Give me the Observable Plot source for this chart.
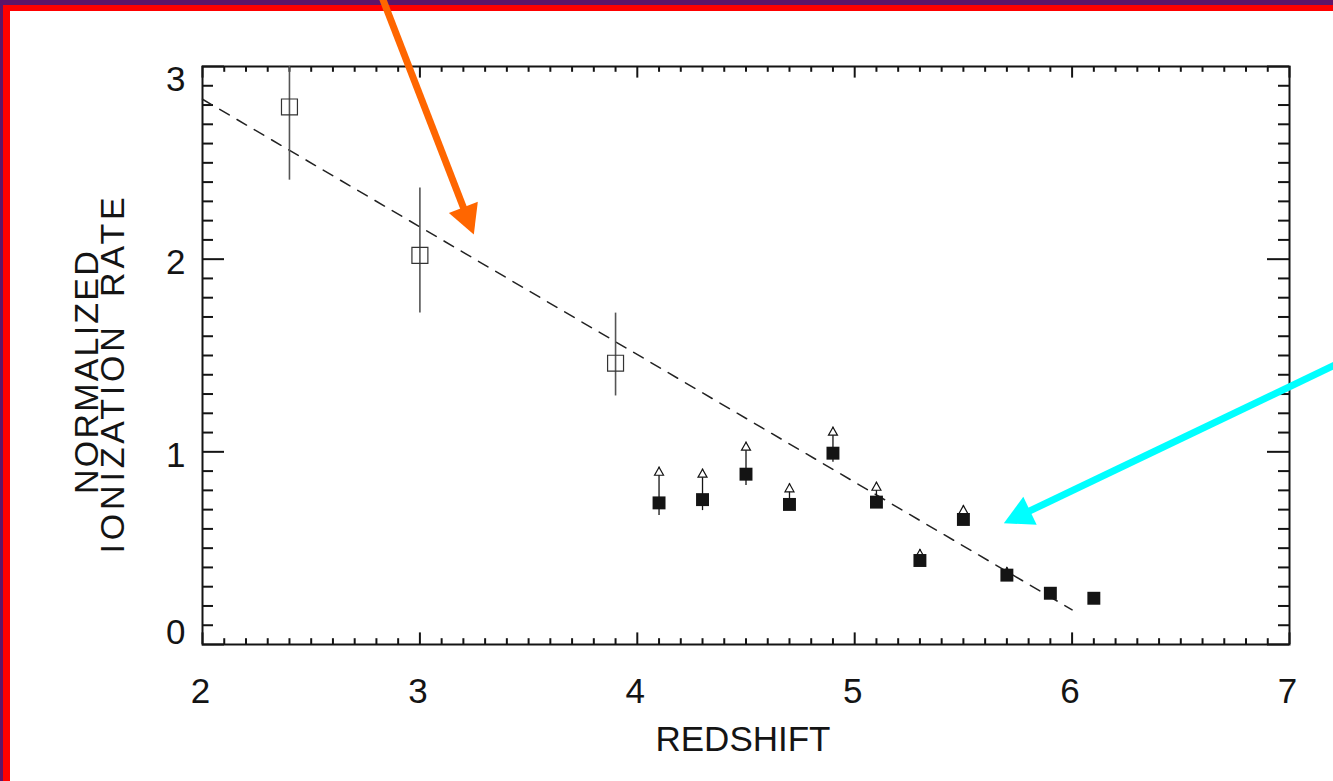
<!DOCTYPE html>
<html>
<head>
<meta charset="utf-8">
<script src="https://cdn.jsdelivr.net/npm/d3@7"></script>
<script src="https://cdn.jsdelivr.net/npm/@observablehq/plot@0.6"></script>
<style>
  html, body { margin: 0; padding: 0; background: #fff; overflow: hidden; }
  #page { position: relative; width: 1333px; height: 781px; }
  #edge { position: absolute; left: 0; top: 0; width: 1333px; height: 781px;
          box-shadow: inset 3px 5px 0 0 #5e1568, inset 10px 11px 0 0 #ff0000; }
  #chart { position: absolute; left: 0; top: 0; }
  #chart text { white-space: pre; }
</style>
</head>
<body>
<div id="page"><div id="edge"></div><div id="chart"></div></div>
<script>
// Normalized ionization rate versus redshift

const xTicks = [2, 3, 4, 5, 6, 7];
const yTicks = [0, 1, 2, 3];

// lower-redshift measurements (open squares with 1-sigma bars)
const openZ    = [2.4, 3.0, 3.9];
const openRate = [2.79, 2.02, 1.46];
const openLo   = [2.41, 1.72, 1.29];
const openHi   = [3.17, 2.37, 1.72];

// high-redshift measurements (filled squares) and their lower-limit arrows
const limZ     = [4.1, 4.3, 4.5, 4.7, 4.9, 5.1, 5.3, 5.5, 5.7, 5.9, 6.1];
const limRate  = [0.735, 0.752, 0.884, 0.727, 0.993, 0.739, 0.436, 0.649, 0.36, 0.266, 0.24];
const limLo    = [0.67, 0.695, 0.825, 0.727, 0.946, 0.739, 0.436, 0.649, 0.36, 0.266, 0.24];
const limArrow = [0.92, 0.91, 1.05, 0.834, 1.128, 0.842, 0.493, 0.721, 0.40, null, null];

// dashed trend line
const fitZ    = [2, 6];
const fitRate = [2.83, 0.18];

// callout arrows (tail -> head, in data units)
const calloutColor = ["#ff6600", "#00ffff"];
const calloutZ1    = [2.814, 7.258];
const calloutR1    = [3.394, 1.477];
const calloutZ2    = [3.248, 5.686];
const calloutR2    = [2.128, 0.629];

const xLabel = "REDSHIFT";
const yLabel1 = "NORMALIZED";
const yLabel2 = "IONIZATION\u00a0 RATE";

// ---- tables built from the arrays above ----
const openData = openZ.map((z, i) => ({z, rate: openRate[i], lo: openLo[i], hi: openHi[i]}));
const limData = limZ.map((z, i) => ({z, rate: limRate[i], lo: limLo[i], arrow: limArrow[i]}));
const limArrows = limData.filter(d => d.arrow != null);
const fitData = fitZ.map((z, i) => ({z, rate: fitRate[i]}));
const callouts = calloutColor.map((color, i) => ({
  color, z1: calloutZ1[i], r1: calloutR1[i], z2: calloutZ2[i], r2: calloutR2[i]
}));

const xMinor = d3.range(20, 71).filter(v => v % 10).map(v => v / 10);
const yMinor = d3.range(0, 31).filter(v => v % 10).map(v => v / 10);

const dims = {width: 1333, height: 781, marginLeft: 202, marginRight: 44, marginTop: 66, marginBottom: 137};
const plotW = dims.width - dims.marginLeft - dims.marginRight;
const plotH = dims.height - dims.marginTop - dims.marginBottom;
const xScale = {domain: [2, 7], label: null};
const yScale = {domain: [0, 3], label: null};
const ink = "#141414";
const fmt = d => String(d);

// triangle head with its tip at the origin, pointing up
const head = (len, half) => ({
  draw(ctx) { ctx.moveTo(0, 0); ctx.lineTo(-half, len); ctx.lineTo(half, len); ctx.closePath(); }
});

// screen-space direction of each callout, from the plot's own scales
const probe = Plot.plot({...dims, x: xScale, y: yScale, marks: [Plot.line(fitData, {x: "z", y: "rate"})]});
const sx = probe.scale("x"), sy = probe.scale("y");
callouts.forEach(d => {
  const dx = sx.apply(d.z2) - sx.apply(d.z1);
  const dy = sy.apply(d.r2) - sy.apply(d.r1);
  d.angle = Math.atan2(dx, -dy) * 180 / Math.PI;
});

const font = "'Liberation Sans', Arial, Helvetica, sans-serif";

const chart = Plot.plot({
  ...dims,
  style: {background: "transparent", overflow: "visible", fontFamily: font, color: ink},
  x: xScale,
  y: yScale,
  color: {type: "identity"},
  marks: [
    // inward ticks on all four sides
    Plot.tickX(xTicks, {insetTop: plotH - 11.6, stroke: ink, strokeWidth: 2}),
    Plot.tickX(xMinor, {insetTop: plotH - 5.8, stroke: ink, strokeWidth: 2}),
    Plot.tickX(xTicks, {insetBottom: plotH - 11.6, stroke: ink, strokeWidth: 2}),
    Plot.tickX(xMinor, {insetBottom: plotH - 5.8, stroke: ink, strokeWidth: 2}),
    Plot.tickY(yTicks, {insetRight: plotW - 22, stroke: ink, strokeWidth: 2}),
    Plot.tickY(yMinor, {insetRight: plotW - 11, stroke: ink, strokeWidth: 2}),
    Plot.tickY(yTicks, {insetLeft: plotW - 22, stroke: ink, strokeWidth: 2}),
    Plot.tickY(yMinor, {insetLeft: plotW - 11, stroke: ink, strokeWidth: 2}),
    Plot.frame({stroke: ink, strokeWidth: 2}),

    // tick labels
    Plot.axisX(xTicks, {tickSize: 0, tickPadding: 34, fontSize: 35, dx: -2, label: null, tickFormat: fmt}),
    Plot.axisY([1, 2], {tickSize: 0, tickPadding: 17, fontSize: 35, dy: 4, label: null, tickFormat: fmt}),
    Plot.axisY([3], {tickSize: 0, tickPadding: 17, fontSize: 35, dy: 13, label: null, tickFormat: fmt}),
    Plot.axisY([0], {tickSize: 0, tickPadding: 17, fontSize: 35, dy: -12, label: null, tickFormat: fmt}),

    // axis titles
    Plot.text([xLabel], {frameAnchor: "bottom", text: d => d, fontSize: 35, lineAnchor: "bottom", dy: 106, dx: -3, fill: ink}),
    Plot.text([yLabel1], {frameAnchor: "left", text: d => d, rotate: -90, fontSize: 34, lineAnchor: "bottom",
      textAnchor: "middle", dx: -105, dy: 16, fill: ink}),
    Plot.text([yLabel2], {frameAnchor: "left", text: d => d, rotate: -90, fontSize: 34, lineAnchor: "bottom",
      textAnchor: "middle", dx: -79, dy: 18, fill: ink}),

    // trend
    Plot.line(fitData, {x: "z", y: "rate", stroke: "#222", strokeWidth: 1.5, strokeDasharray: "11,9"}),

    // open squares with error bars
    Plot.ruleX(openData, {x: "z", y1: "lo", y2: "hi", stroke: "#555", strokeWidth: 1.6, clip: true}),
    Plot.dot(openData, {x: "z", y: "rate", symbol: "square", r: 9, fill: "none", stroke: "#333", strokeWidth: 1.2}),

    // lower limits: stems, open arrowheads, filled squares
    Plot.ruleX(limArrows, {x: "z", y1: "lo", y2: "arrow", stroke: ink, strokeWidth: 1.3}),
    Plot.dot(limArrows, {x: "z", y: "arrow", symbol: head(8, 4.5), fill: "white", stroke: ink, strokeWidth: 1.2}),
    Plot.dot(limData, {x: "z", y: "rate", symbol: "square", r: 7.3, fill: ink, stroke: "none"}),

    // callout arrows
    Plot.arrow(callouts, {x1: "z1", y1: "r1", x2: "z2", y2: "r2", stroke: "color", strokeWidth: 7,
      headLength: 0, insetEnd: 20, strokeLinecap: "butt"}),
    Plot.dot(callouts, {x: "z2", y: "r2", symbol: d => head(29, 15.5), rotate: "angle", fill: "color", stroke: "none"})
  ]
});

// wider tracking for the rotated y title lines
const tracking = new Map([[yLabel1, 2.2], [yLabel2, 3.8]]);
d3.select(chart).selectAll("text")
  .filter(function() { return tracking.has(this.textContent); })
  .attr("letter-spacing", function() { return tracking.get(this.textContent); });

document.getElementById("chart").append(chart);
</script>
</body>
</html>
